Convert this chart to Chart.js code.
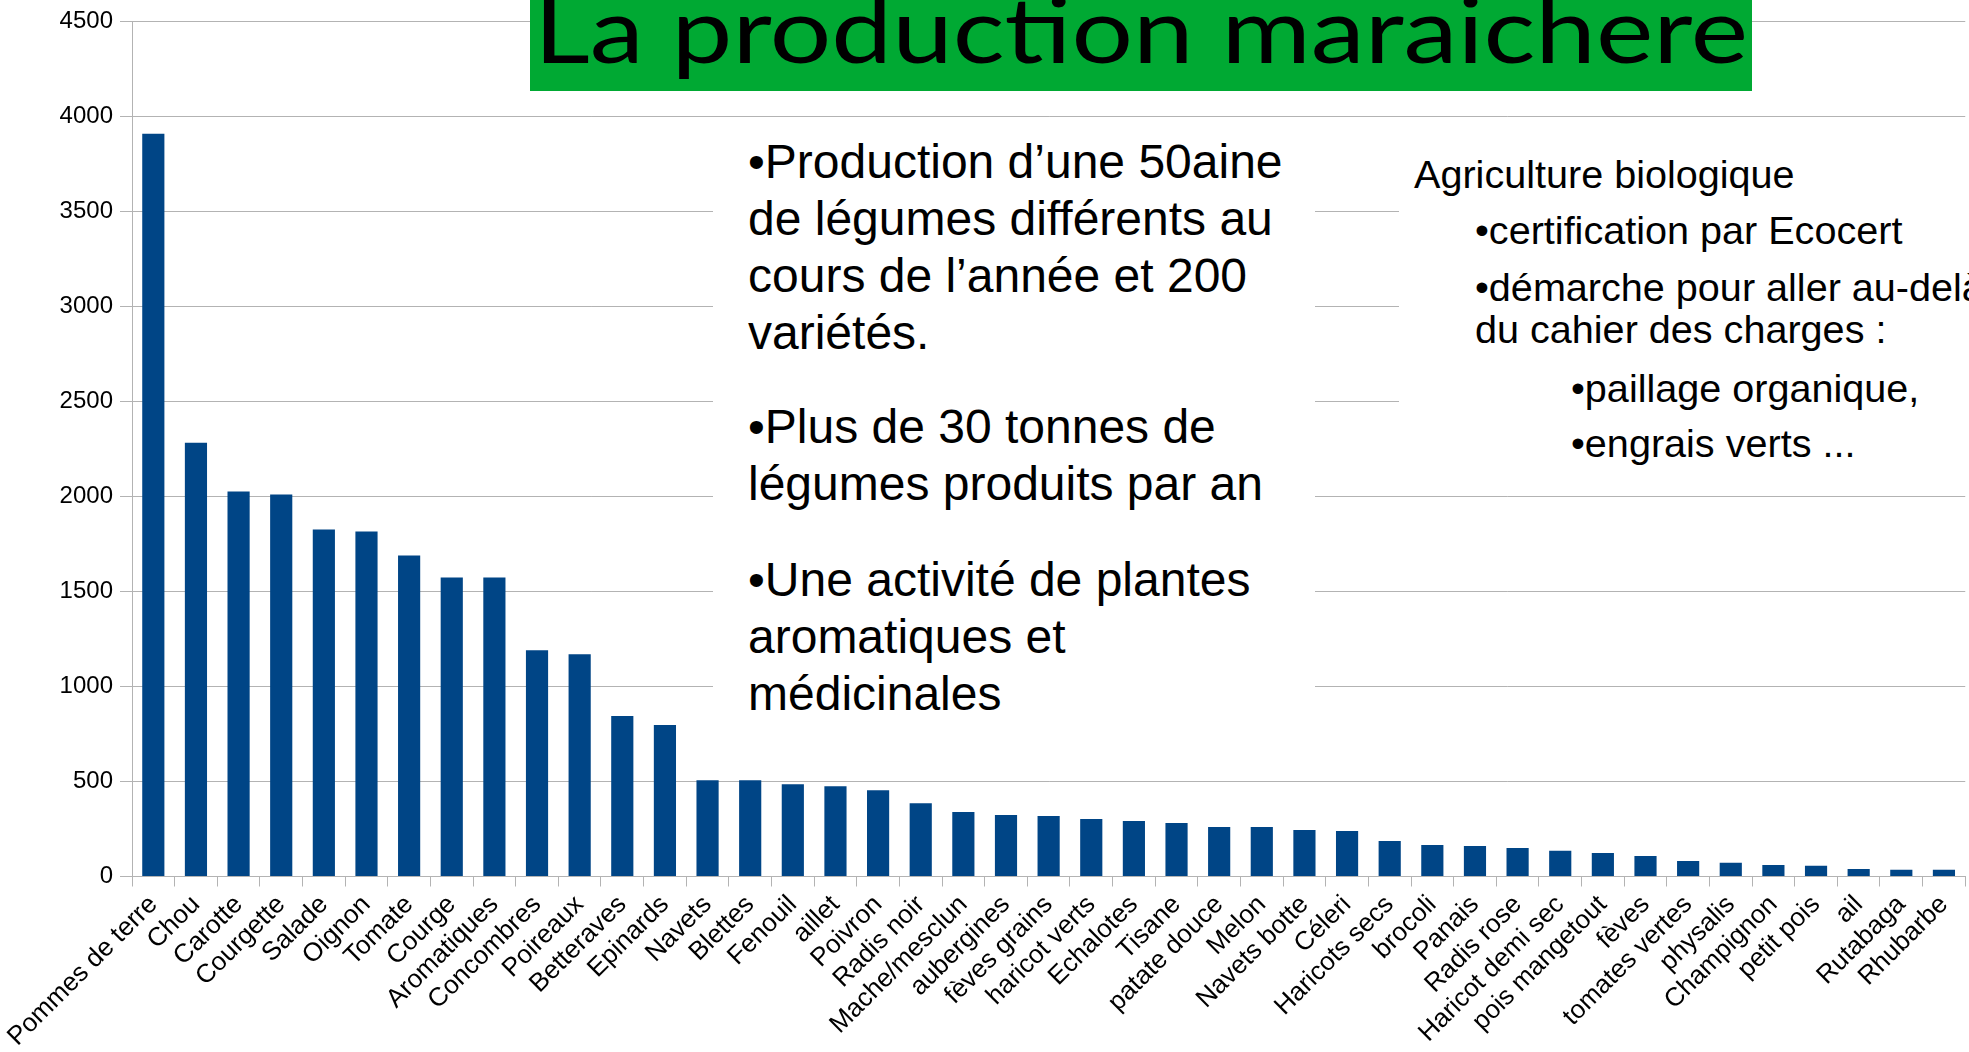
<!DOCTYPE html>
<html>
<head>
<meta charset="utf-8">
<script src="https://cdn.jsdelivr.net/npm/chart.js@4.4.1/dist/chart.umd.min.js"></script>
<style>
  html, body { margin: 0; padding: 0; background: #fff; overflow: hidden; }
  #wrap { position: relative; width: 1969px; height: 1052px; overflow: hidden; }
  #c { position: absolute; left: 0; top: 0; }
  .box { position: absolute; background: #fff; }
  .ln { position: absolute; white-space: nowrap; font-family: "Liberation Sans", Arial, sans-serif; color: #000; line-height: 1; }
  #titleBox { position: absolute; left: 530px; top: 0; width: 1222px; height: 91px; background: #00a933; overflow: hidden; }
  #title { position: absolute; white-space: nowrap; font-family: Lato, "Open Sans", sans-serif; font-size: 92px; line-height: 1; color: #000; transform-origin: 0 0; }
</style>
</head>
<body>
<div id="wrap">
  <canvas id="c" width="1969" height="1052"></canvas>
  <div id="titleBox"><span id="title">La production maraichere</span></div>
  <div class="box" style="left:713px;top:125px;width:602px;height:615px;"></div>
  <div class="box" style="left:1399px;top:132px;width:570px;height:343px;"></div>
  <div id="texts"></div>
</div>
<script>
// ---- data ----
const categories = ["Pommes de terre", "Chou", "Carotte", "Courgette", "Salade", "Oignon", "Tomate", "Courge",
  "Aromatiques", "Concombres", "Poireaux", "Betteraves", "Epinards", "Navets", "Blettes", "Fenouil", "aillet",
  "Poivron", "Radis noir", "Mache/mesclun", "aubergines", "fèves grains", "haricot verts", "Echalotes", "Tisane",
  "patate douce", "Melon", "Navets botte", "Céleri", "Haricots secs", "brocoli", "Panais", "Radis rose",
  "Haricot demi sec", "pois mangetout", "fèves", "tomates vertes", "physalis", "Champignon", "petit pois", "ail",
  "Rutabaga", "Rhubarbe"];
const productionValues = [3909, 2283, 2026, 2010, 1826, 1815, 1689, 1574, 1574, 1190, 1169, 844, 797, 507, 507,
  486, 475, 454, 386, 339, 323, 318, 302, 292, 281, 260, 260, 245, 239, 187, 166, 161, 150, 135, 124, 108, 82,
  72, 61, 56, 40, 35, 35];
const yTicks = [0, 500, 1000, 1500, 2000, 2500, 3000, 3500, 4000, 4500];
const titleText = "La production maraichere";
const middleLines = ["•Production d’une 50aine", "de légumes différents au", "cours de l’année et 200", "variétés.",
  "•Plus de 30 tonnes de", "légumes produits par an",
  "•Une activité de plantes", "aromatiques et", "médicinales"];
const rightLines = ["Agriculture biologique", "•certification par Ecocert", "•démarche pour aller au-delà",
  "du cahier des charges :", "•paillage organique,", "•engrais verts ..."];

// ---- chart ----
Chart.defaults.font.family = '"Liberation Sans", Arial, sans-serif';
Chart.defaults.color = '#000';
const gridCol = '#b3b3b3';
new Chart(document.getElementById('c'), {
  type: 'bar',
  data: {
    labels: categories,
    datasets: [{ data: productionValues, backgroundColor: '#004586', borderWidth: 0,
      barPercentage: 0.52, categoryPercentage: 1.0 }]
  },
  options: {
    responsive: false,
    animation: false,
    devicePixelRatio: 1,
    layout: { padding: { top: 20, left: 0, right: 0, bottom: 0 } },
    plugins: { legend: { display: false }, tooltip: { enabled: false }, title: { display: false } },
    scales: {
      x: {
        grid: { drawOnChartArea: false, drawTicks: true, tickLength: 10, color: gridCol, offset: true },
        border: { color: gridCol, width: 1 },
        ticks: { autoSkip: false, maxRotation: 45, minRotation: 45, font: { size: 26 }, padding: 3, color: '#000' },
        afterFit: (s) => { s.height = 175.5; }
      },
      y: {
        min: 0, max: 4500,
        afterBuildTicks: (s) => { s.ticks = yTicks.map(v => ({ value: v })); },
        grid: { color: gridCol, tickLength: 12, lineWidth: 1 },
        border: { color: gridCol, width: 1 },
        ticks: { font: { size: 24 }, padding: 7, color: '#000', callback: (v) => String(v) },
        afterFit: (s) => { s.width = 132; }
      }
    }
  }
});

// ---- text overlays ----
const textsEl = document.getElementById('texts');
function makeLines(lines, xs, baselines, size) {
  return lines.map((t, i) => {
    const d = document.createElement('div');
    d.className = 'ln';
    d.style.fontSize = size + 'px';
    d.textContent = t;
    d.dataset.x = xs[i];
    d.dataset.b = baselines[i];
    textsEl.appendChild(d);
    return d;
  });
}
function placeBaseline(el, x, baseline) {
  el.style.left = x + 'px';
  el.style.top = '0px';
  let m = el.querySelector('.bm');
  if (!m) {
    m = document.createElement('span');
    m.className = 'bm';
    m.style.cssText = 'display:inline-block;width:0;height:0;vertical-align:baseline;';
    el.appendChild(m);
  }
  const b = m.getBoundingClientRect().top - el.getBoundingClientRect().top;
  el.style.top = (baseline - b) + 'px';
}
const midEls = makeLines(middleLines, [748, 748, 748, 748, 748, 748, 748, 748, 748],
  [178, 235, 292, 349, 443, 500, 596, 653, 710], 48);
const rightEls = makeLines(rightLines, [1414, 1475, 1475, 1475, 1571, 1571],
  [188, 244, 301, 343, 402, 457], 39.6);
document.getElementById('title').textContent = titleText;

function layoutAll() {
  [...midEls, ...rightEls].forEach(el => placeBaseline(el, +el.dataset.x, +el.dataset.b));
  const t = document.getElementById('title');
  t.style.transform = 'none';
  placeBaseline(t, 4, 63);
  const w = t.getBoundingClientRect().width;
  t.style.transform = 'scaleX(' + (1214 / w) + ')';
}
layoutAll();
if (document.fonts && document.fonts.ready) document.fonts.ready.then(layoutAll);
</script>
</body>
</html>
